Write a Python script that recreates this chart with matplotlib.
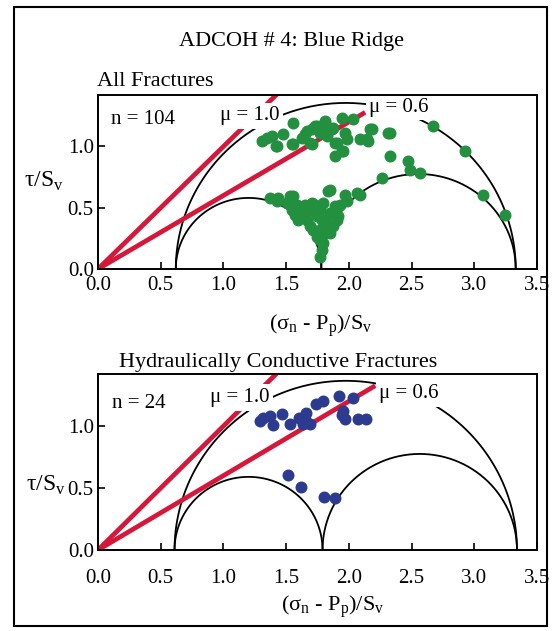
#!/usr/bin/env python3

import numpy as np
import matplotlib
matplotlib.use("Agg")
import matplotlib.pyplot as plt
from matplotlib.patches import Rectangle

plt.rcParams["font.family"] = ["Liberation Serif", "DejaVu Serif"]
plt.rcParams["mathtext.fontset"] = "custom"
plt.rcParams["mathtext.rm"] = "Liberation Serif"

# normalised principal stresses (S3, S2, S1) for each panel
stress_all = [0.62, 1.78, 3.33]
stress_cond = [0.61, 1.79, 3.34]
mu_values = [1.0, 0.6]

# all fractures (n = 104)
all_x = [1.305, 1.345, 1.385, 1.417, 1.478, 1.545, 1.558, 1.624, 1.651, 1.690,
         1.704, 1.744, 1.770, 1.797, 1.810, 1.824, 1.864, 1.890, 1.890, 1.943,
         1.943, 1.970, 1.983, 2.036, 2.089, 2.143, 2.183, 2.329, 2.329, 2.475,
         2.488, 2.568, 2.674, 2.927, 3.073, 3.245, 2.262,
         1.425, 1.558, 1.664, 1.704, 1.730, 1.810, 1.876, 1.903, 1.956, 2.156,
         2.169, 2.315,
         1.372, 1.438, 1.531, 1.558, 1.505, 1.584, 1.571, 1.651, 1.664, 1.704,
         1.690, 1.744, 1.770, 1.770, 1.770, 1.784, 1.797, 1.824, 1.837, 1.850,
         1.877, 1.890, 1.917, 1.930, 1.970, 1.983, 2.063, 2.089, 1.850, 1.624,
         1.597, 1.797, 1.744, 1.797, 1.730, 1.425, 1.544, 1.597, 1.690, 1.903,
         1.850, 1.784, 1.717, 1.810, 1.770]
all_y = [1.043, 1.071, 1.085, 1.003, 1.098, 1.016, 1.194, 1.071, 1.098, 1.030,
         1.139, 1.167, 1.112, 1.139, 1.194, 1.085, 1.139, 1.030, 0.921, 0.962,
         1.235, 1.112, 1.057, 1.221, 1.057, 1.057, 1.139, 1.112, 0.921, 0.879,
         0.811, 0.784, 1.167, 0.962, 0.607, 0.443, 0.743,
         1.003, 1.016, 1.125, 1.016, 1.166, 1.207, 1.153, 1.030, 0.961, 1.043,
         1.139, 1.112,
         0.579, 0.579, 0.593, 0.593, 0.538, 0.525, 0.443, 0.525, 0.402, 0.538,
         0.347, 0.429, 0.484, 0.320, 0.238, 0.156, 0.538, 0.374, 0.634, 0.456,
         0.347, 0.511, 0.429, 0.525, 0.607, 0.552, 0.620, 0.607, 0.648, 0.443,
         0.402, 0.292, 0.265, 0.210, 0.525, 0.552, 0.484, 0.470, 0.484, 0.402,
         0.292, 0.402, 0.320, 0.320, 0.101]

# hydraulically conductive fractures (n = 24)
cond_x = [1.292, 1.318, 1.372, 1.398, 1.465, 1.531, 1.605, 1.637, 1.659, 1.691,
          1.738, 1.797, 1.925, 1.951, 1.970, 2.031, 2.076, 2.137, 1.518, 1.619,
          1.805, 1.890, 1.651, 1.945]
cond_y = [1.040, 1.066, 1.080, 1.008, 1.098, 1.018, 1.066, 1.018, 1.107, 1.013,
          1.178, 1.205, 1.240, 1.120, 1.053, 1.226, 1.053, 1.053, 0.605, 0.512,
          0.427, 0.419, 1.053, 1.090]

x_ticks = [0.0, 0.5, 1.0, 1.5, 2.0, 2.5, 3.0, 3.5]
y_ticks = [0.0, 0.5, 1.0]

RED = "#d6173a"
GREEN = "#23903f"
BLUE = "#2c3b8f"
FS = 15


def draw_arc(ax, left, right):
    c = (left + right) / 2.0
    r = (right - left) / 2.0
    t = np.linspace(0, np.pi, 300)
    ax.plot(c + r * np.cos(t), r * np.sin(t), color="black", lw=1.3, zorder=2)


def draw_panel(ax, stresses, xs, ys, color, n_text, n_pos, mu06_end,
               mu_label_pos, tick_pad):
    s3, s2, s1 = stresses
    draw_arc(ax, s3, s1)
    draw_arc(ax, s3, s2)
    draw_arc(ax, s2, s1)

    ends = [1.6, mu06_end]
    for mu, xe in zip(mu_values, ends):
        xl = np.array([0.0, xe])
        ax.plot(xl, mu * xl, color=RED, lw=3.4, solid_capstyle="butt", zorder=2.5)

    for mu, (lx, ly) in zip(mu_values, mu_label_pos):
        ax.text(lx, ly, "\u03bc = %.1f" % mu, fontsize=FS, ha="center", va="center",
                zorder=3, bbox=dict(facecolor="white", edgecolor="none", pad=2.5))

    ax.plot(xs, ys, "o", color=color, ms=7.6, mec=color, zorder=4)
    ax.text(n_pos[0], n_pos[1], n_text, fontsize=FS, ha="left", va="center")

    ax.set_xlim(0, 3.5)
    ax.set_ylim(0, 1.42)
    ax.set_xticks(x_ticks)
    ax.set_xticklabels(["%.1f" % v for v in x_ticks])
    ax.set_yticks(y_ticks)
    ax.set_yticklabels(["%.1f" % v for v in y_ticks])
    ax.tick_params(direction="in", length=5, width=1.2, labelsize=FS)
    ax.tick_params(axis="x", pad=tick_pad)
    ax.tick_params(axis="y", pad=3)
    for sp in ax.spines.values():
        sp.set_linewidth(1.4)
        sp.set_zorder(6)


fig = plt.figure(figsize=(5.56, 6.31), dpi=100)

ax1 = fig.add_axes([0.1763, 0.5737, 0.7896, 0.2758])
draw_panel(ax1, stress_all, all_x, all_y, GREEN, "n = 104", (0.10, 1.22), 2.13,
           [(1.21, 1.25), (2.40, 1.32)], 5)

ax2 = fig.add_axes([0.1763, 0.1284, 0.7896, 0.2789])
draw_panel(ax2, stress_cond, cond_x, cond_y, BLUE, "n = 24", (0.11, 1.18), 2.21,
           [(1.13, 1.23), (2.48, 1.26)], 14)

xlabel = "(\u03c3$_\\mathrm{n}$ - P$_\\mathrm{p}$)/S$_\\mathrm{v}$"
ylabel = "\u03c4/S$_\\mathrm{v}$"
fig.text(0.576, 0.483, xlabel, fontsize=16, ha="center", va="center")
fig.text(0.599, 0.038, xlabel, fontsize=16, ha="center", va="center")
fig.text(0.114, 0.712, ylabel, fontsize=17, ha="right", va="center")
fig.text(0.118, 0.231, ylabel, fontsize=17, ha="right", va="center")

fig.text(0.525, 0.935, "ADCOH # 4: Blue Ridge", fontsize=16, ha="center", va="center")
fig.text(0.175, 0.871, "All Fractures", fontsize=16, ha="left", va="center")
fig.text(0.214, 0.425, "Hydraulically Conductive Fractures", fontsize=16,
         ha="left", va="center")

fig.patches.append(Rectangle((14 / 556, 1 - 626 / 631), 533 / 556, 619 / 631,
                             transform=fig.transFigure, fill=False,
                             edgecolor="black", lw=1.5))

fig.savefig("out.png", dpi=100)
